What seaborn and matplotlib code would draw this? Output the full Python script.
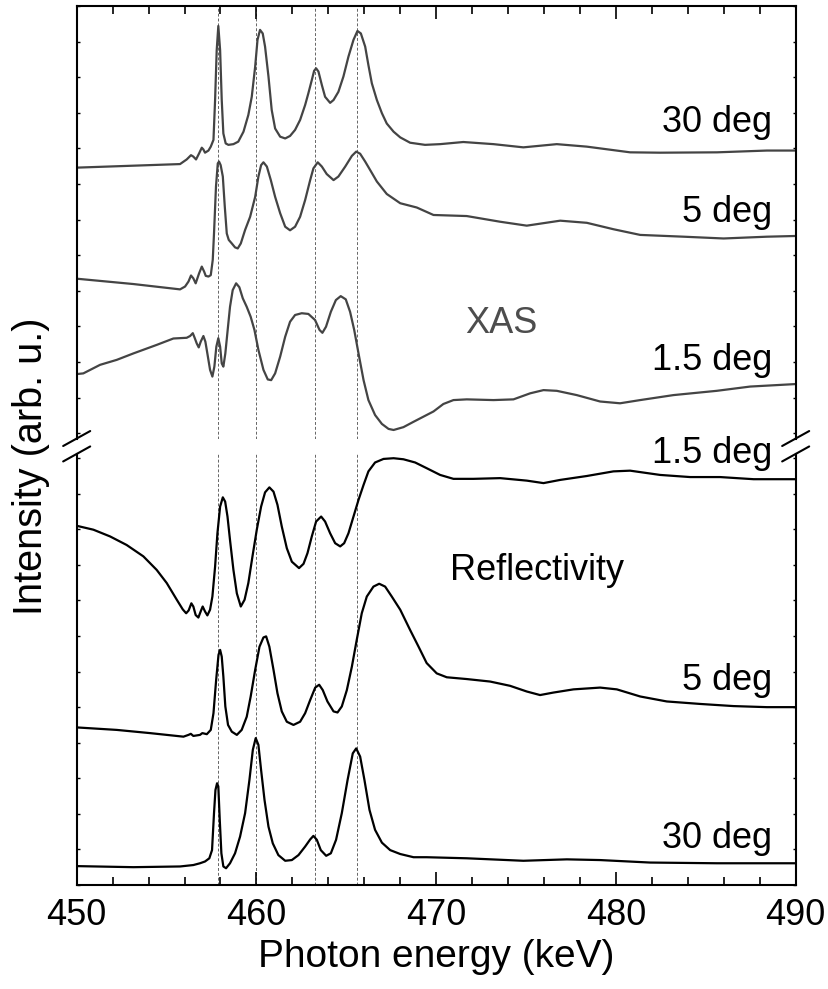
import matplotlib
matplotlib.use("Agg")
import matplotlib.pyplot as plt
from matplotlib.ticker import MultipleLocator
import seaborn as sns

sns.set_style("ticks")
plt.rcParams["font.family"] = ["Liberation Sans", "DejaVu Sans"]
plt.rcParams.update({"text.color": "black", "axes.edgecolor": "black",
                     "axes.labelcolor": "black", "xtick.color": "black",
                     "ytick.color": "black"})

# --- XAS spectra (upper panel, arb. u.) ---
xas30_e = [450.0, 455.75, 456.12, 456.36, 456.49, 456.64, 456.81, 456.96, 457.05, 457.14,
           457.33, 457.46, 457.61, 457.70, 457.79, 457.88, 457.98, 458.07, 458.16, 458.29,
           458.44, 458.72, 458.99, 459.28, 459.55, 459.74, 459.93, 460.06, 460.20, 460.35,
           460.48, 460.67, 460.85, 461.04, 461.32, 461.60, 461.87, 462.15, 462.43, 462.71,
           462.89, 463.08, 463.21, 463.32, 463.45, 463.64, 463.82, 464.10, 464.29, 464.56,
           464.84, 465.12, 465.40, 465.62, 465.81, 466.05, 466.23, 466.42, 466.70, 466.98,
           467.25, 467.63, 468.00, 468.55, 469.38, 470.22, 471.51, 473.19, 474.85, 476.71,
           478.38, 480.79, 482.46, 485.62, 488.40, 490.0]
xas30_i = [7.46, 7.56, 7.69, 7.81, 7.77, 7.69, 7.86, 8.02, 7.97, 7.88,
           7.94, 8.05, 8.24, 9.36, 10.76, 11.44, 10.76, 9.36, 8.42, 8.14,
           8.10, 8.12, 8.19, 8.47, 8.94, 9.45, 10.30, 11.05, 11.33, 11.23,
           10.86, 10.02, 9.08, 8.56, 8.33, 8.28, 8.35, 8.52, 8.80, 9.22,
           9.55, 9.92, 10.18, 10.25, 10.16, 9.78, 9.45, 9.28, 9.36, 9.59,
           10.02, 10.58, 11.05, 11.30, 11.23, 10.86, 10.34, 9.83, 9.36, 8.99,
           8.70, 8.47, 8.31, 8.16, 8.10, 8.12, 8.18, 8.12, 8.03, 8.12,
           8.05, 7.89, 7.88, 7.89, 7.94, 7.94]

xas5_e = [450.0, 453.15, 455.75, 456.03, 456.22, 456.36, 456.49, 456.62, 456.81, 456.96,
          457.09, 457.18, 457.33, 457.46, 457.57, 457.64, 457.75, 457.85, 457.92, 458.01,
          458.13, 458.24, 458.35, 458.46, 458.63, 458.81, 458.96, 459.13, 459.37, 459.65,
          459.93, 460.11, 460.26, 460.39, 460.58, 460.80, 461.04, 461.32, 461.60, 461.87,
          462.15, 462.43, 462.71, 462.99, 463.17, 463.41, 463.64, 463.91, 464.29, 464.56,
          464.94, 465.31, 465.55, 465.77, 466.05, 466.33, 466.70, 467.25, 468.0, 468.92,
          469.85, 471.70, 473.56, 475.04, 476.90, 478.38, 479.86, 481.35, 483.76, 485.99,
          488.40, 490.0]
xas5_i = [4.34, 4.19, 4.04, 4.12, 4.26, 4.43, 4.35, 4.21, 4.49, 4.68,
          4.54, 4.42, 4.40, 4.44, 4.87, 5.61, 6.93, 7.58, 7.63, 7.53,
          7.21, 6.36, 5.61, 5.43, 5.33, 5.22, 5.19, 5.33, 5.71, 6.08,
          6.64, 7.21, 7.53, 7.61, 7.49, 7.11, 6.64, 6.18, 5.80, 5.70,
          5.80, 6.08, 6.55, 7.11, 7.44, 7.61, 7.49, 7.28, 7.11, 7.21,
          7.49, 7.79, 7.91, 7.85, 7.63, 7.39, 7.07, 6.72, 6.46, 6.34,
          6.13, 6.10, 5.94, 5.83, 5.97, 5.91, 5.73, 5.57, 5.52, 5.47,
          5.52, 5.54]

xas15_e = [450.0, 450.37, 451.30, 452.23, 453.15, 454.45, 455.38, 456.12, 456.31, 456.46,
           456.57, 456.68, 456.79, 456.90, 457.05, 457.16, 457.27, 457.42, 457.55, 457.66,
           457.77, 457.88, 457.98, 458.07, 458.16, 458.27, 458.40, 458.53, 458.68, 458.87,
           459.05, 459.24, 459.46, 459.68, 459.89, 460.11, 460.39, 460.63, 460.82, 461.04,
           461.32, 461.60, 461.87, 462.15, 462.52, 462.89, 463.26, 463.51, 463.67, 463.87,
           464.14, 464.42, 464.69, 464.97, 465.21, 465.44, 465.68, 465.96, 466.23, 466.60,
           466.98, 467.35, 467.63, 468.18, 468.74, 469.85, 470.40, 470.96, 471.70, 473.19,
           474.30, 475.23, 475.97, 476.71, 477.82, 479.12, 480.23, 481.35, 483.20, 485.61,
           487.47, 490.0]
xas15_i = [1.66, 1.68, 1.92, 2.06, 2.24, 2.48, 2.66, 2.68, 2.73, 2.81,
           2.67, 2.52, 2.41, 2.57, 2.73, 2.57, 2.24, 1.78, 1.59, 1.87,
           2.43, 2.67, 2.43, 1.96, 1.87, 2.24, 2.90, 3.55, 4.02, 4.21,
           4.10, 3.79, 3.55, 3.27, 2.90, 2.34, 1.78, 1.51, 1.49, 1.68,
           2.15, 2.71, 3.13, 3.32, 3.37, 3.35, 3.18, 2.90, 2.82, 2.99,
           3.41, 3.74, 3.85, 3.76, 3.41, 2.90, 2.24, 1.49, 0.93, 0.51,
           0.26, 0.12, 0.09, 0.17, 0.32, 0.61, 0.82, 0.93, 0.95, 0.93,
           0.95, 1.12, 1.21, 1.19, 1.07, 0.89, 0.84, 0.93, 1.07, 1.19,
           1.31, 1.38]

# --- Reflectivity spectra (lower panel, arb. u.) ---
ref15_e = [450.0, 450.93, 451.86, 452.78, 453.71, 454.45, 455.01, 455.57, 455.90, 456.09,
           456.23, 456.38, 456.49, 456.62, 456.77, 456.92, 457.01, 457.14, 457.27, 457.42,
           457.55, 457.70, 457.83, 457.98, 458.13, 458.26, 458.39, 458.53, 458.72, 458.91,
           459.13, 459.34, 459.55, 459.78, 460.02, 460.26, 460.48, 460.72, 460.95, 461.17,
           461.41, 461.69, 461.97, 462.37, 462.62, 462.84, 463.08, 463.32, 463.60, 463.82,
           464.10, 464.38, 464.66, 464.88, 465.12, 465.40, 465.68, 465.96, 466.23, 466.60,
           467.07, 467.63, 468.18, 468.83, 469.47, 470.22, 470.96, 472.07, 473.56, 475.04,
           475.97, 476.90, 478.38, 479.86, 480.79, 482.46, 484.13, 485.80, 487.66, 490.0]
ref15_i = [10.10, 9.99, 9.80, 9.56, 9.24, 8.86, 8.49, 8.02, 7.75, 7.64,
           7.72, 7.92, 7.83, 7.59, 7.52, 7.72, 7.83, 7.69, 7.58, 7.74,
           8.11, 8.95, 9.89, 10.64, 10.90, 10.78, 10.36, 9.70, 8.86, 8.20,
           7.83, 8.02, 8.49, 9.24, 9.99, 10.64, 11.04, 11.18, 11.06, 10.69,
           10.08, 9.47, 9.09, 8.91, 9.03, 9.33, 9.80, 10.22, 10.36, 10.22,
           9.89, 9.61, 9.52, 9.61, 9.89, 10.36, 10.83, 11.25, 11.63, 11.88,
           11.98, 12.00, 11.97, 11.88, 11.72, 11.53, 11.42, 11.42, 11.44, 11.37,
           11.30, 11.39, 11.50, 11.63, 11.65, 11.53, 11.47, 11.47, 11.41, 11.41]

ref5_e = [450.0, 452.23, 454.08, 455.94, 456.22, 456.35, 456.49, 456.86, 456.99, 457.24,
          457.46, 457.61, 457.76, 457.89, 457.98, 458.07, 458.16, 458.27, 458.42, 458.63,
          458.91, 459.18, 459.46, 459.68, 459.93, 460.17, 460.39, 460.54, 460.72, 460.95,
          461.17, 461.41, 461.69, 462.06, 462.43, 462.71, 462.99, 463.27, 463.49, 463.69,
          463.95, 464.29, 464.51, 464.75, 465.03, 465.31, 465.58, 465.86, 466.14, 466.51,
          466.83, 467.16, 467.53, 468.0, 468.55, 469.02, 469.47, 470.03, 470.59, 471.70,
          473.0, 474.11, 475.04, 475.78, 476.52, 477.64, 479.12, 480.05, 481.35, 482.83,
          484.69, 486.54, 488.40, 490.0]
ref5_i = [4.43, 4.36, 4.27, 4.17, 4.22, 4.25, 4.19, 4.22, 4.27, 4.24,
          4.36, 4.83, 5.77, 6.47, 6.61, 6.42, 5.86, 5.02, 4.50, 4.31,
          4.22, 4.36, 4.73, 5.30, 6.05, 6.70, 6.96, 6.99, 6.70, 6.05,
          5.39, 4.88, 4.59, 4.50, 4.59, 4.83, 5.20, 5.55, 5.63, 5.48,
          5.16, 4.88, 4.85, 5.02, 5.48, 6.14, 6.89, 7.64, 8.11, 8.39,
          8.47, 8.39, 8.11, 7.74, 7.17, 6.70, 6.24, 5.95, 5.84, 5.79,
          5.72, 5.60, 5.44, 5.34, 5.41, 5.50, 5.55, 5.50, 5.30, 5.16,
          5.09, 5.03, 5.00, 5.00]

ref30_e = [450.0, 453.15, 455.75, 456.49, 456.86, 457.14, 457.38, 457.53, 457.64, 457.72,
           457.81, 457.88, 457.96, 458.05, 458.16, 458.31, 458.53, 458.81, 459.09, 459.37,
           459.61, 459.80, 459.96, 460.11, 460.26, 460.45, 460.67, 460.91, 461.22, 461.60,
           461.97, 462.34, 462.71, 462.99, 463.17, 463.36, 463.58, 463.88, 464.14, 464.43,
           464.75, 465.07, 465.36, 465.55, 465.77, 466.01, 466.29, 466.60, 466.98, 467.44,
           468.0, 468.74, 469.47, 471.70, 474.85, 477.27, 479.12, 481.90, 485.61, 490.0]
ref30_i = [0.53, 0.50, 0.52, 0.56, 0.61, 0.66, 0.75, 0.98, 2.02, 2.67,
           2.86, 2.77, 1.83, 0.89, 0.52, 0.47, 0.61, 0.89, 1.36, 2.02,
           2.95, 3.80, 4.13, 3.94, 3.23, 2.39, 1.64, 1.17, 0.84, 0.68,
           0.70, 0.84, 1.08, 1.28, 1.38, 1.27, 0.98, 0.82, 0.89, 1.27,
           2.02, 2.95, 3.70, 3.84, 3.61, 2.95, 2.11, 1.55, 1.19, 0.98,
           0.87, 0.78, 0.78, 0.75, 0.68, 0.72, 0.70, 0.63, 0.61, 0.61]

peak_lines = [457.88, 460.0, 463.28, 465.58]

xas_curves = [(xas30_e, xas30_i), (xas5_e, xas5_i), (xas15_e, xas15_i)]
ref_curves = [(ref15_e, ref15_i), (ref5_e, ref5_i), (ref30_e, ref30_i)]

fig = plt.figure(figsize=(8.29, 9.89), dpi=100)
ax_top = fig.add_axes([0.0925, 0.5566, 0.8673, 0.4373])
ax_bot = fig.add_axes([0.0925, 0.1052, 0.8673, 0.4358])

for e, i in xas_curves:
    sns.lineplot(x=e, y=i, ax=ax_top, color="#444444", lw=1.6, sort=False,
                 estimator=None, legend=False, solid_joinstyle="round")
for e, i in ref_curves:
    sns.lineplot(x=e, y=i, ax=ax_bot, color="black", lw=1.6, sort=False,
                 estimator=None, legend=False, solid_joinstyle="round")

for ax in (ax_top, ax_bot):
    for p in peak_lines:
        ax.axvline(p, color="#666666", lw=0.7, ls=(0, (3, 2)), zorder=0)
    ax.set_xlim(450, 490)
    ax.xaxis.set_major_locator(MultipleLocator(10))
    ax.xaxis.set_minor_locator(MultipleLocator(2))
    ax.yaxis.set_major_locator(MultipleLocator(1))
    ax.tick_params(axis="x", which="major", direction="in", length=9.5, width=1.2)
    ax.tick_params(axis="x", which="minor", direction="in", length=6, width=1.2)
    ax.tick_params(axis="y", direction="in", length=2.5, width=1, left=True, right=True,
                   labelleft=False)
    for s in ax.spines.values():
        s.set_linewidth(1.5)
    ax.set_xlabel("")
    ax.set_ylabel("")

ax_top.set_ylim(-0.15, 12)
ax_bot.set_ylim(0, 12.12)

ax_top.tick_params(axis="x", which="both", top=True, bottom=False, labelbottom=False)
ax_top.spines["bottom"].set_visible(False)
ax_bot.tick_params(axis="x", which="both", top=False, bottom=True, labelsize=26, pad=9.5)
ax_bot.spines["top"].set_visible(False)
ax_bot.set_xlabel("Photon energy (keV)", fontsize=28, labelpad=4)

# axis break marks
dx = 0.0188
for x0 in (0, 1):
    ax_top.plot([x0 - dx, x0 + dx], [-0.0173, 0.0173], transform=ax_top.transAxes,
                color="black", lw=1.5, clip_on=False)
    ax_bot.plot([x0 - dx, x0 + dx], [1 - 0.0174, 1 + 0.0174], transform=ax_bot.transAxes,
                color="black", lw=1.5, clip_on=False)

# curve labels
ax_top.text(488.68, 8.46, "30 deg", ha="right", va="baseline", fontsize=26)
ax_top.text(488.68, 5.93, "5 deg", ha="right", va="baseline", fontsize=26)
ax_top.text(488.68, 1.78, "1.5 deg", ha="right", va="baseline", fontsize=26)
ax_top.text(471.6, 2.81, "XAS", ha="left", va="baseline", fontsize=26, color="#4d4d4d")
ax_bot.text(488.68, 11.87, "1.5 deg", ha="right", va="baseline", fontsize=26)
ax_bot.text(488.68, 5.49, "5 deg", ha="right", va="baseline", fontsize=26)
ax_bot.text(488.68, 1.04, "30 deg", ha="right", va="baseline", fontsize=26)
ax_bot.text(470.77, 8.58, "Reflectivity", ha="left", va="baseline", fontsize=26)

fig.text(0.0374, 1 - 466 / 989, "Intensity (arb. u.)", rotation=90, ha="center",
         va="center", fontsize=28.5)

fig.savefig("out.png", dpi=100)
